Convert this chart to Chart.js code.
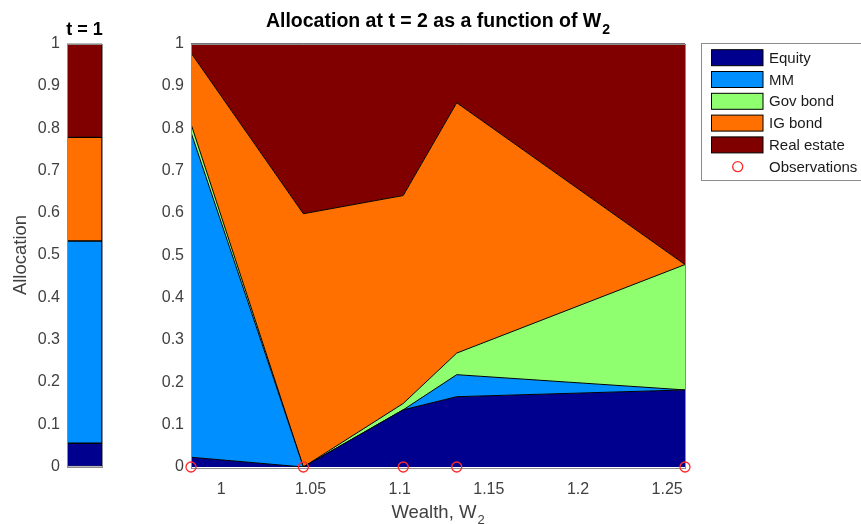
<!DOCTYPE html>
<html>
<head>
<meta charset="utf-8">
<script src="https://cdn.jsdelivr.net/npm/chart.js@4/dist/chart.umd.min.js"></script>
<style>
  html, body { margin: 0; padding: 0; background: #fff; }
  #wrap { position: relative; width: 861px; height: 524px; overflow: hidden; background: #fff; }
  canvas { position: absolute; top: 0; }
  #c1 { left: 0; }
  #c2 { left: 140px; }
</style>
</head>
<body>
<div id="wrap">
  <canvas id="c1" width="140" height="524"></canvas>
  <canvas id="c2" width="721" height="524"></canvas>
</div>
<script>
// Asset classes, in stacking order (bottom to top)
const assetNames = ['Equity', 'MM', 'Gov bond', 'IG bond', 'Real estate'];

// Allocation at t = 1 (single stacked bar), same order as assetNames
const t1Allocation = [0.055, 0.478, 0.0, 0.245, 0.222];

// Allocation at t = 2 for each observed wealth level W2
const wealth     = [0.983, 1.046, 1.102, 1.132, 1.260];
const equity     = [0.023, 0.000, 0.135, 0.166, 0.182];
const mm         = [0.767, 0.000, 0.000, 0.052, 0.000];
const govBond    = [0.020, 0.000, 0.015, 0.051, 0.296];
const igBond     = [0.168, 0.598, 0.491, 0.591, 0.000];
const realEstate = [0.022, 0.402, 0.359, 0.140, 0.522];

// Axis ticks
const wealthTicks = [1, 1.05, 1.1, 1.15, 1.2, 1.25];
const allocationTicks = [0, 0.1, 0.2, 0.3, 0.4, 0.5, 0.6, 0.7, 0.8, 0.9, 1];

// Styling
const assetColors = ['#00008f', '#008fff', '#8fff70', '#ff7000', '#800000'];
const FONT = "'Liberation Sans', Arial, Helvetica, sans-serif";
const TICK_COLOR = '#404040';
const BOX_COLOR = '#8c8c8c';

const fmt = v => String(Math.round(v * 100) / 100);

function drawBox(ctx, area) {
  ctx.save();
  ctx.strokeStyle = BOX_COLOR;
  ctx.lineWidth = 1;
  ctx.strokeRect(Math.round(area.left) + 0.5, Math.round(area.top) + 0.5,
                 Math.round(area.right - area.left), Math.round(area.bottom - area.top));
  ctx.restore();
}

// Text with a trailing subscript, horizontally centred on cx
function drawSubText(ctx, main, sub, cx, baseline, mainFont, subFont, color, subDrop) {
  ctx.save();
  ctx.fillStyle = color;
  ctx.textBaseline = 'alphabetic';
  ctx.textAlign = 'left';
  ctx.font = mainFont;
  const w1 = ctx.measureText(main).width;
  ctx.font = subFont;
  const w2 = ctx.measureText(sub).width;
  const x0 = cx - (w1 + w2 + 1) / 2;
  ctx.font = mainFont;
  ctx.fillText(main, x0, baseline);
  ctx.font = subFont;
  ctx.fillText(sub, x0 + w1 + 1, baseline + subDrop);
  ctx.restore();
}

const yTickOptions = {
  font: { family: FONT, size: 16 },
  color: TICK_COLOR,
  padding: 7,
  callback: v => fmt(v)
};

// ---------- t = 1 bar ----------
const leftDecor = {
  id: 'leftDecor',
  afterDatasetsDraw(chart) {
    const { ctx, chartArea } = chart;
    drawBox(ctx, chartArea);
    ctx.save();
    ctx.fillStyle = '#000';
    ctx.font = `bold 18px ${FONT}`;
    ctx.textAlign = 'center';
    ctx.textBaseline = 'alphabetic';
    ctx.fillText('t = 1', (chartArea.left + chartArea.right) / 2, 35);
    // y-axis label
    ctx.translate(21, (chartArea.top + chartArea.bottom) / 2);
    ctx.rotate(-Math.PI / 2);
    ctx.fillStyle = TICK_COLOR;
    ctx.font = `18.5px ${FONT}`;
    ctx.textBaseline = 'middle';
    ctx.fillText('Allocation', 0, 0);
    ctx.restore();
  }
};

new Chart(document.getElementById('c1'), {
  type: 'bar',
  data: {
    labels: ['t = 1'],
    datasets: assetNames.map((name, i) => ({
      label: name,
      data: [t1Allocation[i]],
      backgroundColor: assetColors[i],
      borderColor: '#000',
      borderWidth: 1,
      borderSkipped: false,
      barPercentage: 1,
      categoryPercentage: 1
    }))
  },
  options: {
    responsive: false,
    animation: false,
    devicePixelRatio: 1,
    layout: { padding: { left: 0, right: 38, top: 43.5, bottom: 57.5 } },
    plugins: { legend: { display: false }, tooltip: { enabled: false } },
    scales: {
      x: { stacked: true, display: false },
      y: {
        stacked: true, min: 0, max: 1,
        grid: { display: false, drawTicks: false },
        border: { display: false },
        afterFit: s => { s.width = 67; },
        afterBuildTicks: s => { s.ticks = allocationTicks.map(v => ({ value: v })); },
        ticks: yTickOptions
      }
    }
  },
  plugins: [leftDecor]
});

// ---------- t = 2 stacked areas ----------
const seriesValues = [equity, mm, govBond, igBond, realEstate];

const mainDecor = {
  id: 'mainDecor',
  beforeDatasetDraw(chart, args) {
    // axes frame sits above the areas but below the observation markers
    if (args.index === 0) drawBox(chart.ctx, chart.chartArea);
  },
  afterDraw(chart) {
    const { ctx, chartArea } = chart;
    const cx = (chartArea.left + chartArea.right) / 2;
    drawSubText(ctx, 'Allocation at t = 2 as a function of W', '2', cx, 26.5,
      `bold 19.5px ${FONT}`, `bold 14px ${FONT}`, '#000', 7);
    drawSubText(ctx, 'Wealth, W', '2', cx, 518,
      `18.5px ${FONT}`, `13px ${FONT}`, TICK_COLOR, 6);

    // legend
    const lx = 561.5, ly = 43.5, rowH = 21.8;
    ctx.save();
    ctx.fillStyle = '#fff';
    ctx.fillRect(lx, ly, 200, 137);
    ctx.strokeStyle = BOX_COLOR;
    ctx.lineWidth = 1;
    ctx.strokeRect(lx, ly, 200, 137);
    ctx.font = `15px ${FONT}`;
    ctx.textBaseline = 'middle';
    ctx.textAlign = 'left';
    const labels = assetNames.concat(['Observations']);
    labels.forEach((name, i) => {
      const yc = 57.7 + i * rowH;
      if (i < assetNames.length) {
        ctx.fillStyle = assetColors[i];
        ctx.fillRect(571.5, yc - 8, 51.5, 16);
        ctx.strokeStyle = '#000';
        ctx.lineWidth = 1;
        ctx.strokeRect(571.5, yc - 8, 51.5, 16);
      } else {
        ctx.beginPath();
        ctx.arc(597.7, yc, 5, 0, Math.PI * 2);
        ctx.strokeStyle = '#ff2a2a';
        ctx.lineWidth = 1.3;
        ctx.stroke();
      }
      ctx.fillStyle = '#1a1a1a';
      ctx.fillText(name, 629, yc + 1);
    });
    ctx.restore();
  }
};

const areaDatasets = assetNames.map((name, i) => ({
  label: name,
  data: wealth.map((w, k) => ({ x: w, y: seriesValues[i][k] })),
  backgroundColor: assetColors[i],
  borderColor: '#000',
  borderWidth: 1,
  pointRadius: 0,
  tension: 0,
  fill: i === 0 ? 'origin' : '-1',
  stack: 'alloc'
}));

const obsDataset = {
  label: 'Observations',
  data: wealth.map(w => ({ x: w, y: 0 })),
  showLine: false,
  fill: false,
  stack: 'obs',
  pointRadius: 5,
  pointBorderWidth: 1.3,
  pointBorderColor: '#ff2a2a',
  pointBackgroundColor: 'rgba(0,0,0,0)',
  clip: false
};

new Chart(document.getElementById('c2'), {
  type: 'line',
  data: {
    // observations first so they are painted last (on top)
    datasets: [obsDataset].concat(areaDatasets)
  },
  options: {
    responsive: false,
    animation: false,
    devicePixelRatio: 1,
    layout: { padding: { left: 0, right: 176, top: 43.5, bottom: 27 } },
    plugins: { legend: { display: false }, tooltip: { enabled: false } },
    scales: {
      x: {
        type: 'linear',
        min: wealth[0], max: wealth[wealth.length - 1],
        grid: { display: false, drawTicks: false },
        border: { display: false },
        afterFit: s => { s.height = 30; },
        afterBuildTicks: s => { s.ticks = wealthTicks.map(v => ({ value: v })); },
        ticks: {
          font: { family: FONT, size: 16 },
          color: TICK_COLOR,
          padding: 13,
          maxRotation: 0,
          autoSkip: false,
          callback: v => fmt(v)
        }
      },
      y: {
        stacked: true, min: 0, max: 1,
        grid: { display: false, drawTicks: false },
        border: { display: false },
        afterFit: s => { s.width = 51; },
        afterBuildTicks: s => { s.ticks = allocationTicks.map(v => ({ value: v })); },
        ticks: yTickOptions
      }
    }
  },
  plugins: [mainDecor]
});
</script>
</body>
</html>
